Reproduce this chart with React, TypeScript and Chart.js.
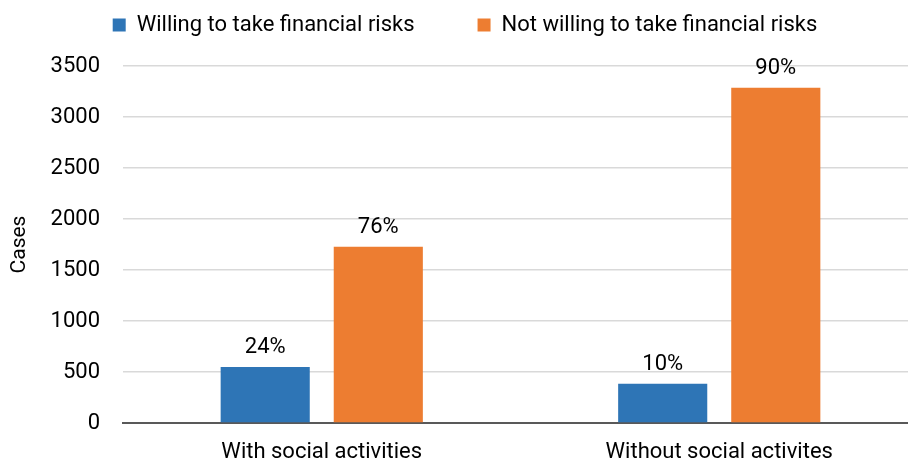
import React, { useEffect, useRef } from "react";
import { Chart, registerables } from "chart.js";

Chart.register(...registerables);

const categories = ["With social activities", "Without social activites"];
const willingValues = [549, 386];
const notWillingValues = [1727, 3287];
const willingLabels = ["24%", "10%"];
const notWillingLabels = ["76%", "90%"];
const seriesNames = ["Willing to take financial risks", "Not willing to take financial risks"];
const yTicks = [0, 500, 1000, 1500, 2000, 2500, 3000, 3500];

const FONT = "Roboto";
const BLUE = "#2E75B6";
const ORANGE = "#ED7D31";

const legendShift = {
  id: "legendShift",
  afterLayout(chart: any) {
    const lg = chart.legend;
    if (!lg) return;
    const dx = 6;
    const dy = -20;
    lg.left += dx;
    lg.right += dx;
    lg.top += dy;
    lg.bottom += dy;
  },
};

const barLabels = {
  id: "barLabels",
  afterDatasetsDraw(chart: any) {
    const ctx = chart.ctx;
    const all = [willingLabels, notWillingLabels];
    ctx.save();
    ctx.font = `22px ${FONT}`;
    ctx.fillStyle = "#000000";
    ctx.textAlign = "center";
    ctx.textBaseline = "alphabetic";
    chart.data.datasets.forEach((_ds: any, di: number) => {
      const meta = chart.getDatasetMeta(di);
      meta.data.forEach((bar: any, i: number) => {
        ctx.fillText(all[di][i], bar.x, bar.y - 14);
      });
    });
    ctx.restore();
  },
};

export default function App() {
  const ref = useRef<HTMLCanvasElement | null>(null);

  useEffect(() => {
    if (!ref.current) return;
    const chart = new Chart(ref.current, {
      type: "bar",
      data: {
        labels: categories,
        datasets: [
          {
            label: seriesNames[0],
            data: willingValues,
            backgroundColor: BLUE,
            borderWidth: 0,
            categoryPercentage: 0.569,
            barPercentage: 0.788,
          },
          {
            label: seriesNames[1],
            data: notWillingValues,
            backgroundColor: ORANGE,
            borderWidth: 0,
            categoryPercentage: 0.569,
            barPercentage: 0.788,
          },
        ],
      },
      options: {
        responsive: false,
        animation: false,
        devicePixelRatio: 1,
        layout: { padding: { top: -29, left: 0, right: 0, bottom: 0 } },
        plugins: {
          legend: {
            position: "top",
            align: "center",
            labels: {
              boxWidth: 13,
              boxHeight: 13,
              padding: 63,
              color: "#000000",
              font: { family: FONT, size: 22 },
            },
          },
          tooltip: { enabled: false },
          title: { display: false },
        },
        scales: {
          x: {
            grid: { display: false, drawTicks: false },
            border: { display: true, color: "#595959", width: 2 },
            ticks: {
              color: "#000000",
              font: { family: FONT, size: 22 },
              padding: 16,
            },
            afterFit: (scale: any) => {
              scale.height = 40;
            },
          },
          y: {
            min: 0,
            max: 3500,
            afterBuildTicks: (scale: any) => {
              scale.ticks = yTicks.map((v) => ({ value: v }));
            },
            grid: { color: "#D9D9D9", lineWidth: 1.5, drawTicks: false },
            border: { display: false },
            ticks: {
              color: "#000000",
              font: { family: FONT, size: 22 },
              padding: 23,
              callback: (v: any) => String(v),
            },
            title: {
              display: true,
              text: "Cases",
              color: "#000000",
              font: { family: FONT, size: 21 },
              padding: { top: 7, bottom: 0 },
            },
            afterFit: (scale: any) => {
              scale.width = 123;
            },
          },
        },
      },
      plugins: [legendShift, barLabels],
    });
    return () => chart.destroy();
  }, []);

  return (
    <div
      style={{
        position: "fixed",
        left: 0,
        top: 0,
        width: 908,
        height: 463,
        overflow: "hidden",
        background: "#ffffff",
      }}
    >
      <canvas ref={ref} width={918} height={463} style={{ display: "block" }} />
    </div>
  );
}
